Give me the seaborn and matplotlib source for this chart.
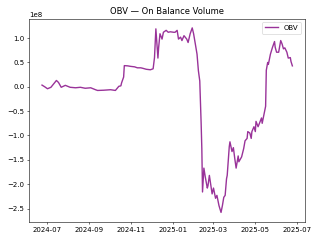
import numpy as np
import pandas as pd
import matplotlib
matplotlib.use("Agg")
import matplotlib.pyplot as plt
import seaborn as sns

dates = [
    "2024-06-24", "2024-06-28", "2024-07-02", "2024-07-07", "2024-07-11", "2024-07-15",
    "2024-07-18", "2024-07-22", "2024-07-28", "2024-08-04", "2024-08-12", "2024-08-19",
    "2024-08-26", "2024-09-03", "2024-09-10", "2024-09-13", "2024-09-22", "2024-10-02",
    "2024-10-09", "2024-10-14", "2024-10-17", "2024-10-18", "2024-10-21", "2024-10-22",
    "2024-10-27", "2024-10-31", "2024-11-06", "2024-11-10", "2024-11-15", "2024-11-18",
    "2024-11-23", "2024-11-29", "2024-12-03", "2024-12-05", "2024-12-07", "2024-12-10",
    "2024-12-11", "2024-12-13", "2024-12-16", "2024-12-18", "2024-12-22", "2024-12-25",
    "2024-12-28", "2025-01-02", "2025-01-04", "2025-01-07", "2025-01-09", "2025-01-12",
    "2025-01-14", "2025-01-17", "2025-01-21", "2025-01-23", "2025-01-26", "2025-01-29",
    "2025-01-31", "2025-02-03", "2025-02-05", "2025-02-07", "2025-02-09", "2025-02-11",
    "2025-02-12", "2025-02-13", "2025-02-15", "2025-02-17", "2025-02-20", "2025-02-21",
    "2025-02-23", "2025-02-27", "2025-03-01", "2025-03-04", "2025-03-06", "2025-03-09",
    "2025-03-12", "2025-03-14", "2025-03-16", "2025-03-18", "2025-03-20", "2025-03-21",
    "2025-03-24", "2025-03-25", "2025-03-28", "2025-03-30", "2025-04-01", "2025-04-03",
    "2025-04-06", "2025-04-07", "2025-04-11", "2025-04-14", "2025-04-16", "2025-04-19",
    "2025-04-20", "2025-04-23", "2025-04-25", "2025-04-26", "2025-04-29", "2025-05-01",
    "2025-05-02", "2025-05-05", "2025-05-07", "2025-05-10", "2025-05-11", "2025-05-14",
    "2025-05-16", "2025-05-17", "2025-05-19", "2025-05-20", "2025-05-23", "2025-05-26",
    "2025-05-29", "2025-05-30", "2025-06-01", "2025-06-04", "2025-06-07", "2025-06-09",
    "2025-06-11", "2025-06-13", "2025-06-16", "2025-06-18", "2025-06-21", "2025-06-22",
    "2025-06-24",
]

obv = [
    3.5e6, 0.0, -4.0e6, -1.0e6, 6.0e6, 13.0e6,
    9.0e6, -1.0e6, 3.0e6, -1.0e6, -2.0e6, -1.0e6,
    -3.0e6, -2.0e6, -6.0e6, -7.5e6, -7.0e6, -6.0e6,
    -7.5e6, 1.0e6, 2.0e6, 8.0e6, 20.0e6, 43.5e6,
    43.0e6, 42.0e6, 41.0e6, 39.0e6, 39.0e6, 38.0e6,
    36.0e6, 35.0e6, 37.0e6, 60.0e6, 119.0e6, 59.0e6,
    80.0e6, 109.0e6, 98.0e6, 112.0e6, 116.0e6, 112.0e6,
    113.0e6, 112.0e6, 112.0e6, 116.0e6, 98.0e6, 102.0e6,
    95.0e6, 105.0e6, 98.0e6, 91.0e6, 109.0e6, 121.0e6,
    109.0e6, 84.0e6, 67.0e6, 33.0e6, 12.0e6, -75.0e6,
    -127.0e6, -216.0e6, -167.0e6, -185.0e6, -208.0e6, -203.0e6,
    -182.0e6, -220.0e6, -208.0e6, -229.0e6, -223.0e6, -244.0e6,
    -258.0e6, -244.0e6, -227.0e6, -223.0e6, -189.0e6, -182.0e6,
    -123.0e6, -113.0e6, -133.0e6, -125.0e6, -147.0e6, -167.0e6,
    -142.0e6, -154.0e6, -144.0e6, -127.0e6, -111.0e6, -106.0e6,
    -92.0e6, -95.0e6, -106.0e6, -92.0e6, -82.0e6, -92.0e6,
    -71.0e6, -82.0e6, -75.0e6, -64.0e6, -75.0e6, -54.0e6,
    -40.0e6, 34.0e6, 50.0e6, 46.0e6, 67.0e6, 81.0e6,
    93.0e6, 81.0e6, 71.0e6, 71.0e6, 95.0e6, 88.0e6,
    78.0e6, 80.0e6, 71.0e6, 59.0e6, 60.0e6, 52.0e6,
    43.0e6,
]

df = pd.DataFrame({"Date": pd.to_datetime(dates), "OBV": obv})

fig, ax = plt.subplots(figsize=(6.4, 4.8), dpi=50)
sns.lineplot(data=df, x="Date", y="OBV", color="purple", alpha=0.8,
             linewidth=2.0, label="OBV", ax=ax)
ax.set_title("OBV — On Balance Volume")
ax.set_xlabel("")
ax.set_ylabel("")
ax.legend(loc="upper right")
fig.tight_layout()
fig.savefig("out.png", dpi=50)
